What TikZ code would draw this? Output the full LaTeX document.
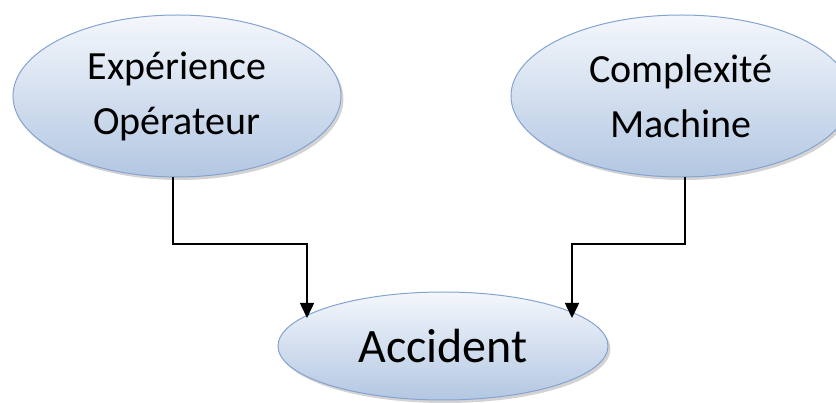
\documentclass[tikz,border=0pt]{standalone}
\usepackage{fontspec}
\setmainfont{Carlito}
\usetikzlibrary{shapes.geometric,shadows,arrows.meta}
\definecolor{ellborder}{HTML}{85A3D1}
\definecolor{elltop}{HTML}{F4F7FC}
\definecolor{ellbot}{HTML}{B3C7E2}
\tikzset{
  blob/.style={ellipse, draw=ellborder, line width=1pt, top color=elltop, bottom color=ellbot,
    inner sep=0pt, align=center, text=black,
    drop shadow={opacity=0.35, shadow xshift=2.5pt, shadow yshift=-3pt, fill=gray}},
  link/.style={draw=black, line width=1.5pt, -{Triangle[length=15pt,width=14pt]}}
}
\begin{document}
\begin{tikzpicture}[x=1pt,y=-1pt]
\useasboundingbox (0,0) rectangle (836,403);
\node[blob, minimum width=328pt, minimum height=162pt, font=\fontsize{40}{55}\selectfont] (exp) at (177,96) {Expérience\\Opérateur};
\node[blob, minimum width=340pt, minimum height=162pt, font=\fontsize{40}{55}\selectfont] (cpx) at (681,96) {Complexité\\Machine};
\node[blob, minimum width=330pt, minimum height=108pt, font=\fontsize{48}{50}\selectfont] (acc) at (443,346) {Accident};
\coordinate (l1) at (173,244);
\coordinate (l2) at (307,244);
\coordinate (r1) at (685,244);
\coordinate (r2) at (572,244);
\draw[link] (exp.south -| l1) -- (l1) -- (l2) -- (l2 |- 0,318);
\draw[link] (cpx.south -| r1) -- (r1) -- (r2) -- (r2 |- 0,318);
\end{tikzpicture}
\end{document}
